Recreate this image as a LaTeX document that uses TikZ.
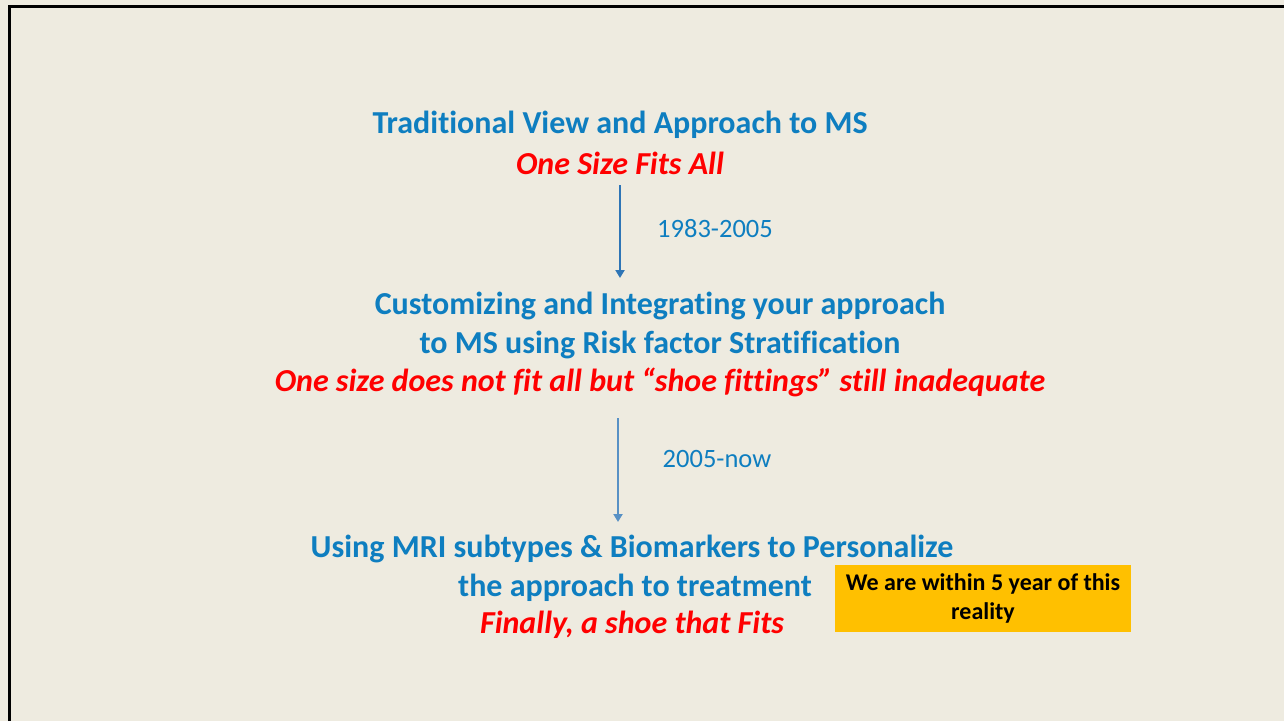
\documentclass[tikz,border=0pt]{standalone}
\usepackage{fontspec}
\setmainfont{Carlito}[Ligatures={TeX,NoCommon}]
\usetikzlibrary{arrows.meta}
\definecolor{slidebg}{HTML}{EEEBE0}
\definecolor{msblue}{HTML}{0E7EC0}
\definecolor{arrblue}{HTML}{2E75B6}
\definecolor{msred}{HTML}{FF0000}
\definecolor{noteyellow}{HTML}{FFC000}
\tikzset{
  head/.style={text=msblue,font=\fontsize{32}{38}\selectfont\bfseries},
  tag/.style={text=msred,font=\fontsize{32}{38}\selectfont\bfseries\itshape},
  years/.style={text=msblue,font=\fontsize{26.5}{30}\selectfont},
  stage/.style={draw=arrblue,line width=2.5pt,-{Triangle[width=9pt,length=8pt]}}
}
\begin{document}
\begin{tikzpicture}[x=1pt,y=-1pt]
                \useasboundingbox (0,0) rectangle (1284,721);
                \fill[slidebg] (0,0) rectangle (1284,721);
                \draw[line width=3pt] (9,721)--(9,6)--(1284,6);
                % first stage
                \node[head] (trad) at (620,124.5) {Traditional View and Approach to MS};
                \node[tag] (fitsall) at (620,163) {One Size Fits All};
                \coordinate (a1) at (620,185);
                \coordinate (b1) at (620,278);
                \draw[stage] (a1)--(b1);
                \node[years] (y1) at (715,229) {1983-2005};
                % second stage
                \node[head] (cust) at (660,305.5) {Customizing and Integrating your approach};
                \node[head] (risk) at (660,344.5) {to MS using Risk factor Stratification};
                \node[tag] (shoe) at (660,382) {One size does not fit all but “shoe fittings” still inadequate};
                \coordinate (a2) at (618,418);
                \coordinate (b2) at (618,522);
                \draw[stage,draw=arrblue!80!white] (a2)--(b2);
                \node[years] (y2) at (717,459) {2005-now};
                % third stage
                \node[head] (mri) at (632,548.5) {Using MRI subtypes \& Biomarkers to Personalize};
                \node[head] (treat) at (635,587.5) {the approach to treatment};
                \node[tag] (fits) at (632,625) {Finally, a shoe that Fits};
                \node[fill=noteyellow,minimum width=296pt,minimum height=67pt,align=center,
                      font=\fontsize{24}{29}\selectfont\bfseries] (note) at (983,598.5)
                      {We are within 5 year of this\\reality};
                \end{tikzpicture}
\end{document}
